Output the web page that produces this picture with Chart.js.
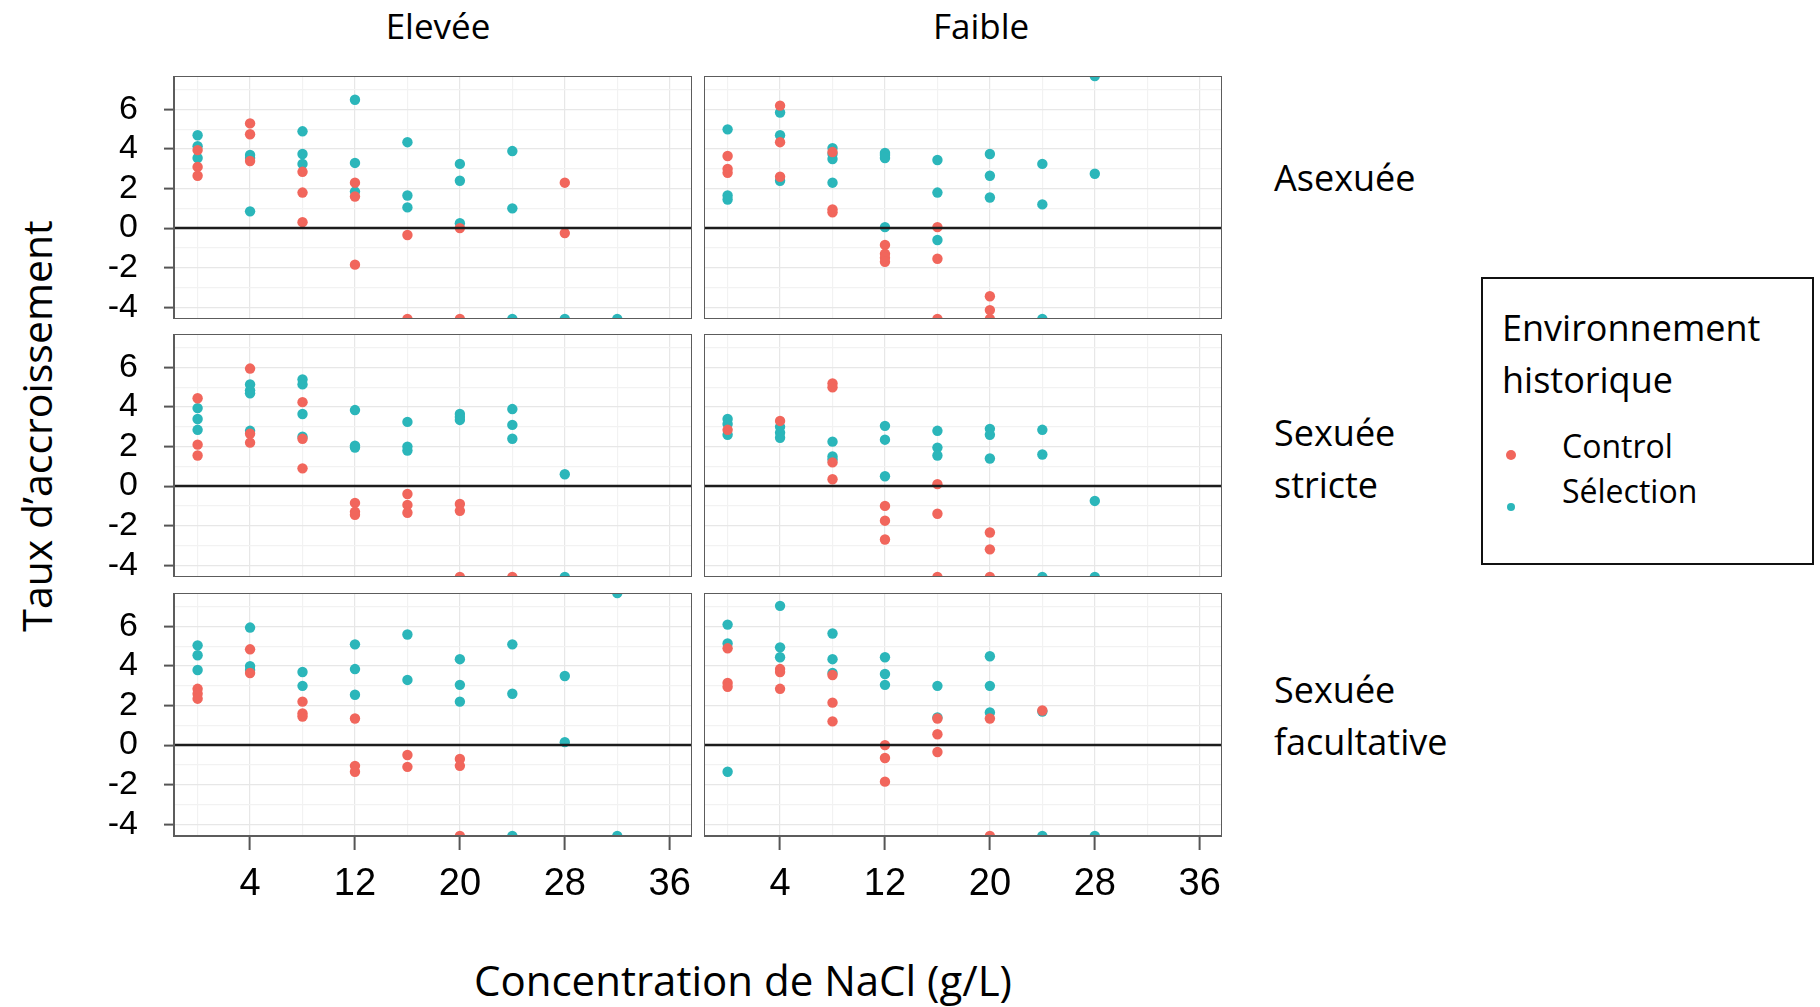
<!DOCTYPE html>
<html lang="fr">
<head>
<meta charset="utf-8">
<title>Taux d'accroissement selon la concentration de NaCl</title>
<script src="https://cdn.jsdelivr.net/npm/chart.js@4.4.1/dist/chart.umd.min.js"></script>
<style>
  html, body { margin: 0; padding: 0; background: #fff; }
  #page { position: relative; width: 1820px; height: 1007px; overflow: hidden; background: #fff; }
  #page canvas { position: absolute; }
  .txt { position: absolute; font-family: "Open Sans", sans-serif; color: #000; white-space: nowrap; line-height: 1; }
  .strip { font-size: 35px; width: 400px; text-align: center; }
  .row { font-size: 36px; line-height: 51.6px; }
  #legend { position: absolute; left: 1481px; top: 277px; width: 329px; height: 284px; border: 2.5px solid #111; }
  .key { position: absolute; border-radius: 50%; }
</style>
</head>
<body>
<div id="page">
  <canvas id="p11" width="608" height="243" style="left:84px;top:76px"></canvas>
  <canvas id="p12" width="518" height="243" style="left:704px;top:76px"></canvas>
  <canvas id="p21" width="608" height="243" style="left:84px;top:334px"></canvas>
  <canvas id="p22" width="518" height="243" style="left:704px;top:334px"></canvas>
  <canvas id="p31" width="608" height="323" style="left:84px;top:593px"></canvas>
  <canvas id="p32" width="518" height="323" style="left:704px;top:593px"></canvas>

  <div class="txt strip" style="left:238px;top:8px">Elevée</div>
  <div class="txt strip" style="left:781px;top:8px">Faible</div>

  <div class="txt row" style="left:1274px;top:152px">Asexuée</div>
  <div class="txt row" style="left:1274px;top:407px">Sexuée<br>stricte</div>
  <div class="txt row" style="left:1274px;top:664px">Sexuée<br>facultative</div>

  <div id="legend"></div>
  <div class="txt row" style="left:1502px;top:302px">Environnement<br>historique</div>
  <span class="key" style="left:1506px;top:450px;width:10px;height:10px;background:#F1665C"></span>
  <span class="key" style="left:1507px;top:503px;width:8px;height:8px;background:#2BB6BA"></span>
  <div class="txt" style="left:1562px;top:423px;font-size:32px;line-height:45px">Control<br>Sélection</div>

  <div class="txt" style="left:36px;top:426px;font-size:41px;transform:translate(-50%,-50%) rotate(-90deg)">Taux d’accroissement</div>
  <div class="txt" style="left:743px;top:959px;font-size:42px;transform:translateX(-50%)">Concentration de NaCl (g/L)</div>
</div>

<script>
// concentrations de NaCl (g/L) testées
const concentrations = [0, 4, 8, 12, 16, 20, 24, 28, 32];

// taux d'accroissement, une liste par concentration
// (les valeurs hors cadre sont portées à la limite de l'axe, comme sur la figure)
const eleveeAsexueeControl = [[3.95, 3.1, 2.65], [5.3, 4.75, 3.4], [2.85, 1.8, 0.3], [2.3, 1.6, -1.85], [-0.35, -4.6], [0.0, -4.6], [], [2.3, -0.25], []];
const eleveeAsexueeSelection = [[4.7, 4.15, 3.55], [3.7, 3.55, 0.85], [4.9, 3.75, 3.25], [6.5, 3.3, 1.85], [4.35, 1.65, 1.05], [3.25, 2.4, 0.25], [3.9, 1.0, -4.6], [-4.6], [-4.6]];

const faibleAsexueeControl = [[3.65, 3.0, 2.8], [6.2, 4.35, 2.6], [3.85, 0.95, 0.8], [-0.85, -1.3, -1.5, -1.7], [0.05, -1.55, -4.6], [-3.45, -4.15, -4.6], [], [], []];
const faibleAsexueeSelection = [[5.0, 1.65, 1.45], [5.85, 4.7, 2.4], [4.05, 3.75, 3.5, 2.3], [3.8, 3.7, 3.55, 0.05], [3.45, 1.8, -0.6], [3.75, 2.65, 1.55], [3.25, 1.2, -4.6], [7.7, 2.75], []];

const eleveeStricteControl = [[4.45, 2.1, 1.55], [5.95, 2.65, 2.2], [4.25, 2.4, 0.9], [-0.85, -1.3, -1.45], [-0.4, -0.95, -1.35], [-0.9, -1.25, -4.6], [-4.6], [], []];
const eleveeStricteSelection = [[3.95, 3.4, 2.85], [5.15, 4.85, 4.7, 2.8], [5.4, 5.15, 3.65, 2.5], [3.85, 2.05, 1.95], [3.25, 2.0, 1.8], [3.65, 3.5, 3.35], [3.9, 3.1, 2.4], [0.6, -4.6], []];

const faibleStricteControl = [[2.85], [3.3], [5.2, 5.0, 1.2, 0.35], [-1.0, -1.75, -2.7], [0.1, -1.4, -4.6], [-2.35, -3.2, -4.6], [], [], []];
const faibleStricteSelection = [[3.4, 3.15, 2.6], [3.0, 2.7, 2.45], [2.25, 1.5, 1.35], [3.05, 2.35, 0.5], [2.8, 1.95, 1.55], [2.9, 2.6, 1.4], [2.85, 1.6, -4.6], [-0.75, -4.6], []];

const eleveeFacultativeControl = [[2.85, 2.6, 2.35], [4.85, 3.65], [2.2, 1.6, 1.45], [1.35, -1.05, -1.35], [-0.5, -1.1], [-0.7, -1.05, -4.6], [], [], []];
const eleveeFacultativeSelection = [[5.05, 4.55, 3.8], [5.95, 4.0, 3.8], [3.7, 3.0], [5.1, 3.85, 2.55], [5.6, 3.3], [4.35, 3.05, 2.2], [5.1, 2.6, -4.6], [3.5, 0.15], [7.7, -4.6]];

const faibleFacultativeControl = [[4.9, 3.15, 2.95], [3.85, 3.7, 2.85], [3.55, 2.15, 1.2], [0.0, -0.65, -1.85], [1.35, 0.55, -0.35], [1.35, -4.6], [1.75], [], []];
const faibleFacultativeSelection = [[6.1, 5.15, -1.35], [7.05, 4.95, 4.45], [5.65, 4.35, 3.65], [4.45, 3.6, 3.05], [3.0, 1.4], [4.5, 3.0, 1.65], [1.7, -4.6], [-4.6], []];

// axes
const xRange = [-1.8, 37.7];
const yRange = [-4.6, 7.7];
const xGrid = [0, 4, 8, 12, 16, 20, 24, 28, 32, 36];
const xTickLabels = [4, 12, 20, 28, 36];
const yGrid = [-4, -3, -2, -1, 0, 1, 2, 3, 4, 5, 6, 7];
const yTickLabels = [-4, -2, 0, 2, 4, 6];
const refLine = 0;

const RED = '#F1665C';
const TEAL = '#2BB6BA';

Chart.defaults.font.family = '"Liberation Sans", Arial, sans-serif';
Chart.defaults.color = '#000';

function toPoints(groups) {
    return groups.flatMap((vals, i) => vals.map(v => ({ x: concentrations[i], y: v })));
}

// cadre du panneau + ligne horizontale y = 0 par-dessus les points
const panelFrame = {
    id: 'panelFrame',
    afterDatasetsDraw(chart) {
        const { ctx, chartArea: a } = chart;
        const y0 = chart.scales.y.getPixelForValue(refLine);
        ctx.save();
        ctx.strokeStyle = '#1c1c1c';
        ctx.lineWidth = 2.5;
        ctx.beginPath();
        ctx.moveTo(a.left, y0);
        ctx.lineTo(a.right, y0);
        ctx.stroke();
        ctx.strokeStyle = '#5c5c5c';
        ctx.lineWidth = 2;
        ctx.strokeRect(a.left, a.top, a.right - a.left, a.bottom - a.top);
        ctx.restore();
    }
};

function gridColor(labels) {
    return (c) => labels.includes(c.tick.value) ? '#e7e7e7' : '#f2f2f2';
}

function makePanel(id, control, selection, showY, showX) {
    const dataset = (label, groups, color) => ({
        label: label,
        data: toPoints(groups),
        backgroundColor: color,
        borderColor: color,
        borderWidth: 0,
        pointRadius: 5.2,
        clip: 0
    });

    return new Chart(document.getElementById(id), {
        type: 'scatter',
        data: {
            datasets: [
                dataset('Control', control, RED),
                dataset('Sélection', selection, TEAL)
            ]
        },
        options: {
            responsive: false,
            animation: false,
            events: [],
            layout: { padding: 0, autoPadding: false },
            plugins: { legend: { display: false }, tooltip: { enabled: false } },
            scales: {
                x: {
                    type: 'linear',
                    min: xRange[0],
                    max: xRange[1],
                    afterBuildTicks: (s) => { s.ticks = xGrid.map(v => ({ value: v })); },
                    afterFit: (s) => {
                        s.height = showX ? 80 : 0;
                        s.paddingLeft = 0;
                        s.paddingRight = 0;
                    },
                    border: { display: false },
                    grid: {
                        color: gridColor(xTickLabels),
                        lineWidth: 1.2,
                        drawTicks: showX,
                        tickLength: 14,
                        tickWidth: 2,
                        tickColor: (c) => xTickLabels.includes(c.tick.value) ? '#555' : 'rgba(0,0,0,0)'
                    },
                    ticks: {
                        display: showX,
                        autoSkip: false,
                        maxRotation: 0,
                        minRotation: 0,
                        padding: 12,
                        font: { size: 38 },
                        callback: (v) => xTickLabels.includes(v) ? String(v) : ''
                    }
                },
                y: {
                    type: 'linear',
                    min: yRange[0],
                    max: yRange[1],
                    afterBuildTicks: (s) => { s.ticks = yGrid.map(v => ({ value: v })); },
                    afterFit: (s) => {
                        s.width = showY ? 90 : 0;
                        s.paddingTop = 0;
                        s.paddingBottom = 0;
                    },
                    border: { display: false },
                    grid: {
                        color: gridColor(yTickLabels),
                        lineWidth: 1.2,
                        drawTicks: showY,
                        tickLength: 10,
                        tickWidth: 2,
                        tickColor: (c) => yTickLabels.includes(c.tick.value) ? '#555' : 'rgba(0,0,0,0)'
                    },
                    ticks: {
                        display: showY,
                        autoSkip: false,
                        padding: 26,
                        font: { size: 34 },
                        callback: (v) => yTickLabels.includes(v) ? String(v) : ''
                    }
                }
            }
        },
        plugins: [panelFrame]
    });
}

makePanel('p11', eleveeAsexueeControl, eleveeAsexueeSelection, true, false);
makePanel('p12', faibleAsexueeControl, faibleAsexueeSelection, false, false);
makePanel('p21', eleveeStricteControl, eleveeStricteSelection, true, false);
makePanel('p22', faibleStricteControl, faibleStricteSelection, false, false);
makePanel('p31', eleveeFacultativeControl, eleveeFacultativeSelection, true, true);
makePanel('p32', faibleFacultativeControl, faibleFacultativeSelection, false, true);
</script>
</body>
</html>
